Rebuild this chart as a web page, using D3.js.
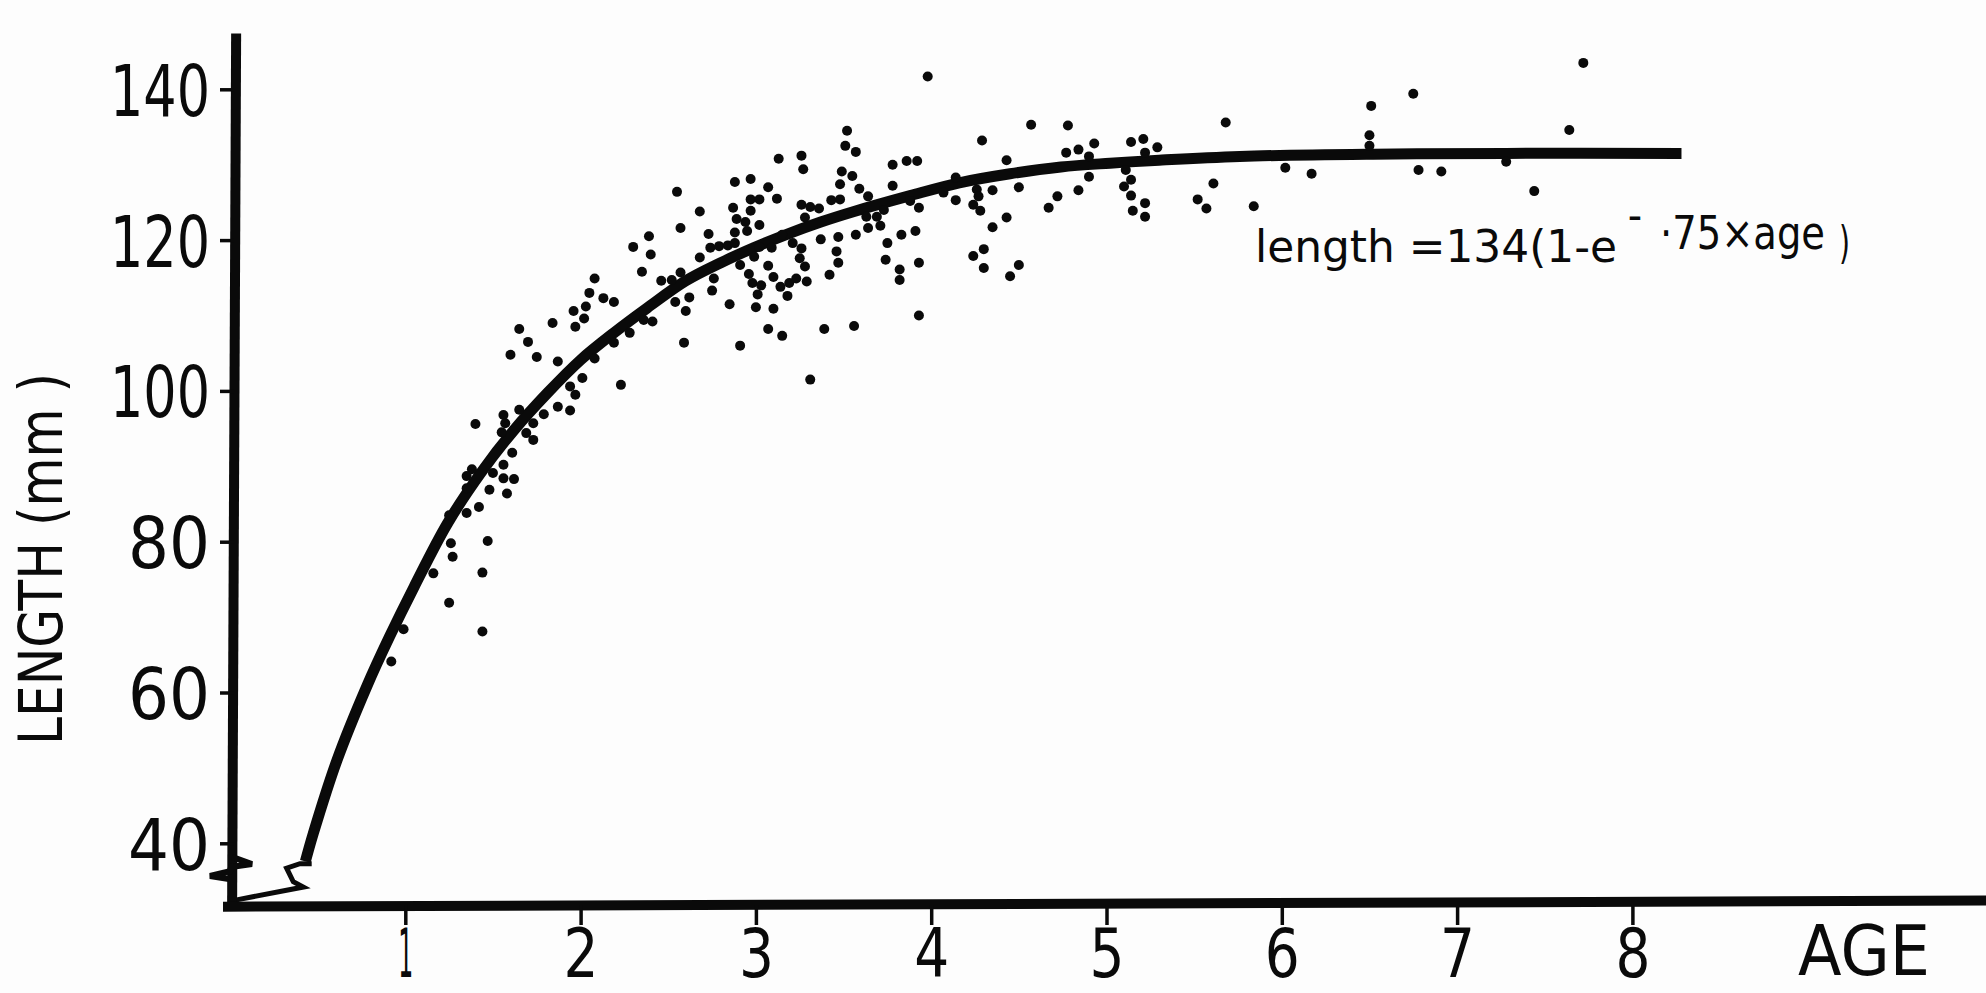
<!DOCTYPE html>
<html><head><meta charset="utf-8">
<script src="https://cdn.jsdelivr.net/npm/d3@7"></script>
<style>
html,body{margin:0;padding:0;background:#fdfdfd;}
svg{display:block;}
text{font-family:"DejaVu Sans",sans-serif;fill:#0a0a0a;}
</style></head><body>
<svg id="chart" width="1986" height="993"></svg>
<script>
// ---------- data ----------
const xTicks = [1,2,3,4,5,6,7,8];
const yTicks = [40,60,80,100,120,140];
const xTitle = "AGE";
const yTitle = "LENGTH (mm )";
const formulaMain = "length =134(1-e";
const formulaMinus = "\u2212";
const formulaExp = "\u00B775\u00D7age";
const formulaClose = ")";

// fitted growth curve (age, length mm)
const curveAge    = [0.43,0.475,0.61,0.78,0.91,1.05,1.24,1.43,1.62,1.81,2.0,2.19,2.38,2.6,2.8,2.99,3.18,3.37,3.56,3.88,4.16,4.45,4.74,5.02,5.3,5.76,6.52,7.28,8.28];
const curveLength = [37.6,41.3,51.0,60.8,67.4,74.0,82.4,89.1,94.8,99.7,104.1,107.7,111.0,114.6,117.0,119.0,120.8,122.4,123.8,125.9,127.6,128.8,129.7,130.2,130.6,131.1,131.4,131.5,131.5];

// axis-break strokes (age, length)
const yBreakAge    = [0.011,0.125,0.006,0.0,-0.114,-0.006];
const yBreakLength = [38.2,37.25,36.85,36.3,35.66,35.26];
const curveBreakAge    = [0.038,0.418,0.361,0.323,0.399,0.466];
const curveBreakLength = [32.5,34.2,34.9,36.7,37.3,37.3];

// observed fish (age, length mm)
const fish = [
[2.08,114.9],[2.05,113.0],[2.13,112.3],[2.19,111.8],[1.96,110.6],[2.03,111.2],[2.02,109.6],[1.97,108.5],[1.84,109.0],[1.65,108.2],[1.70,106.5],[1.60,104.8],[1.75,104.5],[1.87,103.9],[2.19,106.4],[2.08,104.3],[2.01,101.7],[1.94,100.6],[1.97,99.5],[1.87,97.9],[1.94,97.4],[1.79,96.9],[1.73,95.7],[1.65,97.5],[1.56,96.8],[1.57,95.7],[1.55,94.5],[1.40,95.6],[1.69,94.4],[1.73,93.5],[1.61,91.8],[1.56,90.2],[1.38,89.6],[1.35,88.7],[1.50,89.1],[1.56,88.4],[1.62,88.3],[1.48,86.9],[1.58,86.4],[1.35,87.1],[1.42,84.6],[1.35,83.8],[1.25,83.5],[1.26,79.8],[1.47,80.1],[1.27,78.0],[1.44,75.9],[1.16,75.8],[1.25,71.9],[1.44,68.1],[0.99,68.4],[0.92,64.1],
[3.52,134.5],[3.51,132.5],[3.57,131.7],[3.26,131.2],[3.27,129.4],[3.13,130.8],[3.49,129.1],[3.55,128.5],[3.48,127.4],[3.59,126.8],[3.43,125.3],[3.48,125.4],[2.97,128.1],[2.88,127.7],[3.07,127.0],[3.12,125.5],[2.97,125.4],[3.02,125.4],[2.87,124.3],[2.97,123.9],[3.26,124.7],[3.31,124.4],[3.36,124.2],[3.28,123.0],[2.55,126.4],[2.68,123.8],[2.57,121.6],[2.89,122.8],[2.94,122.4],[2.95,121.2],[3.02,122.0],[2.88,121.0],[2.73,120.8],[2.39,120.5],[2.30,119.1],[2.40,118.1],[2.74,119.0],[2.79,119.2],[2.84,119.3],[2.88,119.6],[2.68,117.7],[2.35,115.8],[2.57,115.7],[2.46,114.6],[2.52,114.7],[2.76,114.9],[2.75,113.3],[2.62,112.4],[2.54,111.8],[2.60,110.6],[2.28,107.7],[2.41,109.2],[2.36,109.4],[2.59,106.4],[2.23,100.8],[2.85,111.5],[2.91,106.0],[3.00,111.1],[3.10,110.9],[3.07,108.2],[3.15,107.3],[3.31,101.5],[3.39,108.2],[3.56,108.6],[3.42,115.4],[3.47,117.0],[3.46,118.5],[3.47,120.4],[3.57,120.7],[3.37,120.1],[2.91,116.7],[2.96,115.5],[2.98,114.3],[3.03,114.0],[3.01,112.8],[3.07,116.6],[3.10,115.1],[3.14,113.8],[3.18,112.6],[3.19,114.3],[3.23,114.9],[3.29,114.5],[3.28,116.5],[3.25,117.6],[3.26,118.9],[3.21,119.6],[3.15,120.7],[3.09,119.0],[2.99,117.8],[3.02,119.1],
[3.98,141.7],[4.57,135.3],[4.78,135.2],[4.29,133.2],[4.43,130.6],[4.77,131.6],[4.84,132.0],[4.93,132.8],[4.90,131.1],[5.14,133.0],[3.78,130.0],[3.86,130.5],[3.92,130.5],[3.78,127.2],[3.64,125.8],[4.14,128.3],[4.50,127.0],[4.35,126.6],[4.26,126.7],[4.07,126.3],[4.27,125.8],[4.14,125.3],[3.88,125.2],[3.93,124.3],[4.24,124.7],[4.28,123.9],[3.73,124.0],[3.63,123.1],[3.69,123.1],[3.64,121.6],[3.71,121.9],[4.72,125.8],[4.84,126.6],[4.90,128.4],[4.67,124.3],[5.10,127.1],[5.14,128.0],[5.14,125.9],[5.11,129.3],[5.15,123.9],[4.43,123.0],[4.35,121.7],[3.83,120.7],[3.91,121.2],[3.75,119.6],[3.74,117.4],[3.82,116.1],[3.82,114.7],[3.93,117.0],[4.24,117.9],[4.30,118.8],[4.30,116.3],[4.50,116.7],[4.45,115.2],[3.93,110.0],
[5.21,133.4],[5.22,131.6],[5.29,132.3],[5.22,124.9],[5.22,123.1],[5.68,135.6],[5.61,127.5],[5.52,125.4],[5.57,124.2],[5.84,124.5],[6.02,129.6],[6.17,128.8],[6.51,137.8],[6.50,133.9],[6.50,132.5],[6.75,139.4],[6.78,129.3],[6.91,129.1],[7.28,130.4],[7.44,126.5],[7.64,134.6],[7.72,143.5]
];

// ---------- drawing ----------
const ink = "#0a0a0a";
const svg = d3.select("#chart");
svg.append("rect").attr("width",1986).attr("height",993).attr("fill","#fdfdfd");

const x = d3.scaleLinear().domain([0,10]).range([230,1983]);
const y = d3.scaleLinear().domain([40,140]).range([843.3,89.3]);

const line = d3.line().x(d=>x(d[0])).y(d=>y(d[1]));

// axis lines
svg.append("path").attr("d", line([[0.035,147.4],[0.012,31.5]]))
  .attr("stroke",ink).attr("stroke-width",10).attr("fill","none");
svg.append("path").attr("d", line([[-0.04,31.6],[10.02,32.4]]))
  .attr("stroke",ink).attr("stroke-width",10).attr("fill","none");

// y axis ticks & labels
const digitW = (s, one, other) => Array.from(s).reduce((a,c)=>a+(c==="1"?one:other),0);
const gy = svg.append("g").attr("transform","translate(234,0)")
  .call(d3.axisLeft(y).tickValues(yTicks).tickSize(14).tickPadding(10).tickFormat(d3.format("d")));
gy.select(".domain").remove();
gy.selectAll(".tick line").attr("stroke",ink).attr("stroke-width",3.5);
gy.selectAll(".tick text")
  .attr("font-size",72).attr("font-family","DejaVu Sans").attr("fill",ink)
  .attr("dy","0.36em")
  .attr("lengthAdjust","spacingAndGlyphs")
  .attr("textLength", d => digitW(String(d),18,41));

// x axis ticks & labels
const gx = svg.append("g").attr("transform","translate(0,905)")
  .call(d3.axisBottom(x).tickValues(xTicks).tickSize(20).tickFormat(d3.format("d")));
gx.select(".domain").remove();
gx.selectAll(".tick line").attr("stroke",ink).attr("stroke-width",3.5);
gx.selectAll(".tick text")
  .attr("font-size",68).attr("font-family","DejaVu Sans").attr("fill",ink)
  .attr("y",72).attr("dy",0)
  .attr("lengthAdjust","spacingAndGlyphs")
  .attr("textLength", d => digitW(String(d),15,35));

// axis break marks
svg.append("path").attr("d", line(yBreakAge.map((a,i)=>[a,yBreakLength[i]])))
  .attr("stroke",ink).attr("stroke-width",6).attr("fill","none").attr("stroke-linejoin","miter");
svg.append("path").attr("d", line(curveBreakAge.map((a,i)=>[a,curveBreakLength[i]])))
  .attr("stroke",ink).attr("stroke-width",5).attr("fill","none").attr("stroke-linejoin","miter");

// fitted curve
const curveLine = d3.line().x(d=>x(d[0])).y(d=>y(d[1])).curve(d3.curveCatmullRom.alpha(0.5));
svg.append("path").attr("d", curveLine(curveAge.map((a,i)=>[a,curveLength[i]])))
  .attr("stroke",ink).attr("stroke-width",11).attr("fill","none")
  .attr("stroke-linecap","butt").attr("stroke-linejoin","round");

// points
svg.append("g").selectAll("circle").data(fish).join("circle")
  .attr("cx",d=>x(d[0])).attr("cy",d=>y(d[1])).attr("r",5).attr("fill",ink);

// titles
svg.append("text").text(xTitle)
  .attr("x",1798).attr("y",975).attr("font-size",70)
  .attr("lengthAdjust","spacingAndGlyphs").attr("textLength",132);
svg.append("text").text(yTitle)
  .attr("transform","translate(62,745) rotate(-90)")
  .attr("font-size",60)
  .attr("lengthAdjust","spacingAndGlyphs").attr("textLength",372);

// formula annotation: one text element, positioned tspans
const formula = svg.append("text").attr("x",1255).attr("y",262);
formula.append("tspan").text(formulaMain)
  .attr("x",1255).attr("y",262).attr("font-size",44)
  .attr("lengthAdjust","spacingAndGlyphs").attr("textLength",362);
formula.append("tspan").text(formulaMinus)
  .attr("x",1628).attr("y",232).attr("font-size",44)
  .attr("lengthAdjust","spacingAndGlyphs").attr("textLength",14);
formula.append("tspan").text(formulaExp)
  .attr("x",1660).attr("y",249).attr("font-size",46)
  .attr("lengthAdjust","spacingAndGlyphs").attr("textLength",165);
formula.append("tspan").text(formulaClose)
  .attr("x",1839).attr("y",258).attr("font-size",44)
  .attr("lengthAdjust","spacingAndGlyphs").attr("textLength",11);
</script>
</body></html>
